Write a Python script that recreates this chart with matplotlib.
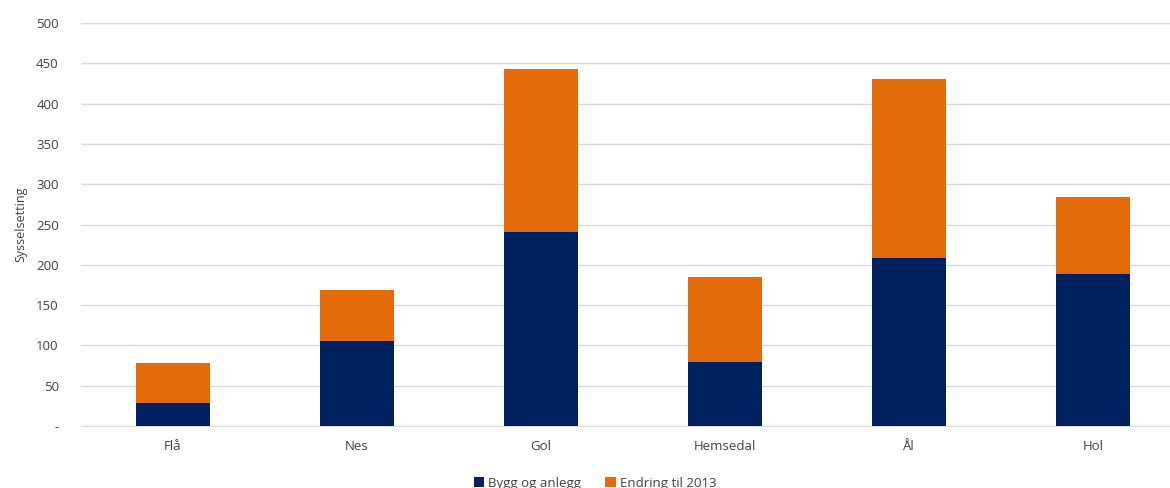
import matplotlib
matplotlib.use("Agg")
import matplotlib.pyplot as plt
import numpy as np

kommuner = ["Flå", "Nes", "Gol", "Hemsedal", "Ål", "Hol"]
bygg = [28, 105, 241, 80, 209, 188]
endring = [50, 64, 202, 105, 222, 96]
yticks = [0, 50, 100, 150, 200, 250, 300, 350, 400, 450, 500]
ylabels = ["-"] + [str(v) for v in yticks[1:]]

plt.rcParams["font.family"] = ["Open Sans", "DejaVu Sans"]

fig = plt.figure(figsize=(11.70, 4.88), dpi=100)
ax = fig.add_axes([81 / 1170, 62 / 488, 1104 / 1170, 403 / 488])

x = np.arange(len(kommuner))
ax.bar(x, bygg, width=0.4, color="#002060", label="Bygg og anlegg", zorder=3)
ax.bar(x, endring, width=0.4, bottom=bygg, color="#E36C09",
       label="Endring til 2013", zorder=3)

ax.set_xlim(-0.5, 5.5)
ax.set_ylim(0, 500)
ax.set_yticks(yticks)
ax.set_yticklabels(ylabels, fontsize=9.5, color="#404040")
ax.set_xticks(x)
ax.set_xticklabels(kommuner, fontsize=9.5, color="#404040")
ax.tick_params(length=0, axis="y", pad=16)
ax.tick_params(length=0, axis="x", pad=10)
ax.grid(axis="y", color="#D9D9D9", linewidth=1, zorder=0)
for s in ["top", "right", "left"]:
    ax.spines[s].set_visible(False)
ax.spines["bottom"].set_color("#D9D9D9")
ax.set_ylabel("Sysselsetting", fontsize=9, color="#404040", labelpad=6)

fig.legend(loc="center", bbox_to_anchor=(595 / 1170, 5 / 488), ncol=2,
           frameon=False, fontsize=9.5, handlelength=0.8, handleheight=0.8,
           handletextpad=0.3, columnspacing=1.8, labelcolor="#404040")

fig.savefig("out.png", dpi=100)
